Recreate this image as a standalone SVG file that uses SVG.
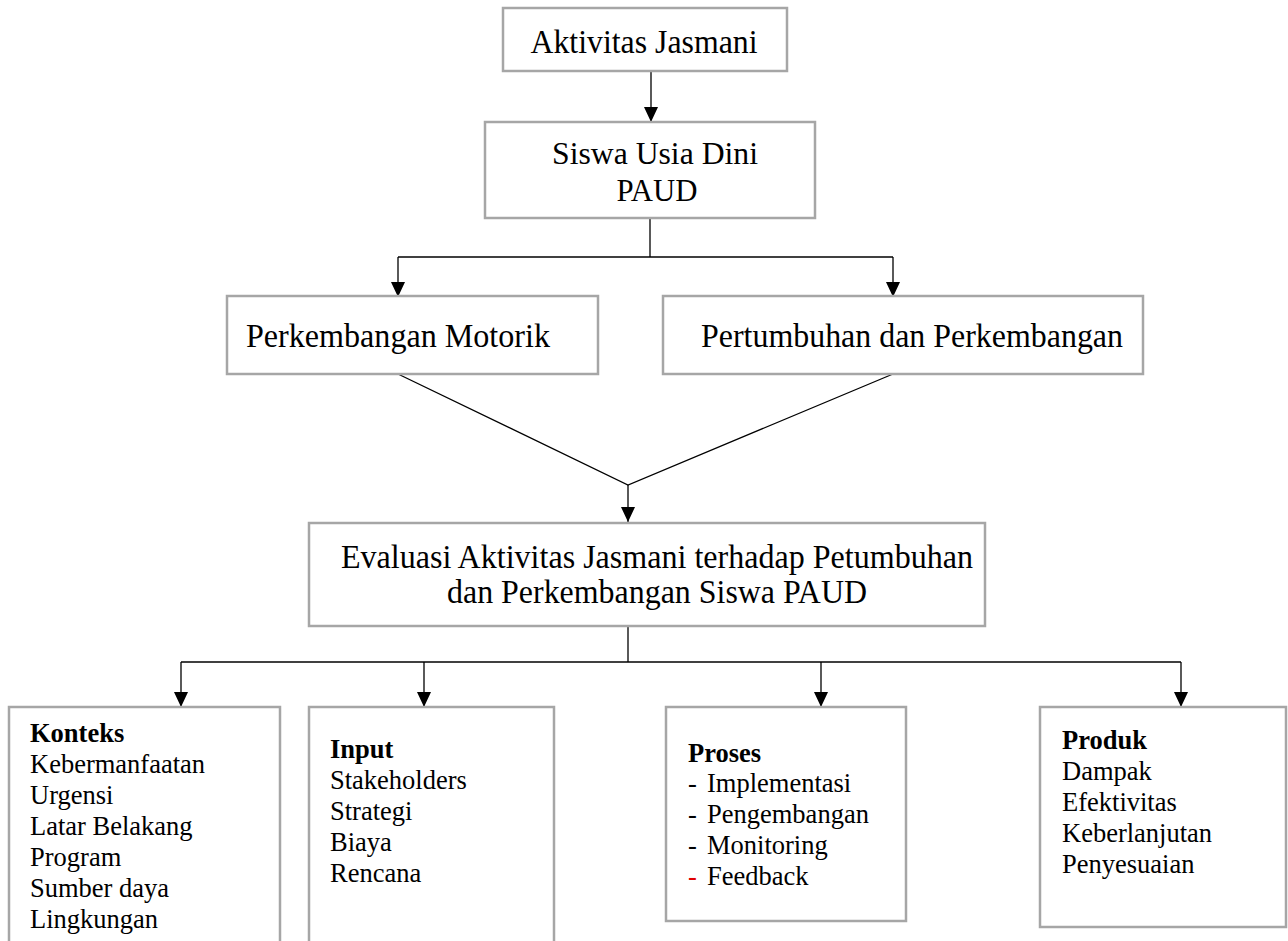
<svg xmlns="http://www.w3.org/2000/svg" width="1288" height="941" viewBox="0 0 1288 941">
<defs>
<marker id="arr" viewBox="0 0 15 14" refX="15" refY="7" markerWidth="15" markerHeight="14" markerUnits="userSpaceOnUse" orient="auto">
<path d="M0,0 L15,7 L0,14 z" fill="#000"/>
</marker>
</defs>
<style>
.box{fill:#fff;stroke:#a6a6a6;stroke-width:2.5}
.big{font-family:"Liberation Serif","Times New Roman",serif;font-size:34px;fill:#000;text-anchor:middle}
.mid{font-size:31px}
.sm{font-family:"Liberation Serif","Times New Roman",serif;font-size:26.5px;fill:#000}
.hd{font-weight:bold}
.ln{fill:none;stroke:#000;stroke-width:1.3}
</style>
<rect width="1288" height="941" fill="#fff"/>
<g id="connectors">
<line class="ln" x1="651" y1="71" x2="651" y2="122" marker-end="url(#arr)"/>
<polyline class="ln" points="650,218 650,257"/>
<line class="ln" x1="398" y1="257" x2="893" y2="257"/>
<line class="ln" x1="398" y1="257" x2="398" y2="297" marker-end="url(#arr)"/>
<line class="ln" x1="893" y1="257" x2="893" y2="297" marker-end="url(#arr)"/>
<polyline class="ln" points="398,374 628,485 893,374"/>
<line class="ln" x1="628" y1="485" x2="628" y2="522" marker-end="url(#arr)"/>
<line class="ln" x1="628" y1="626" x2="628" y2="662"/>
<line class="ln" x1="181" y1="662" x2="1181" y2="662"/>
<line class="ln" x1="181" y1="662" x2="181" y2="707" marker-end="url(#arr)"/>
<line class="ln" x1="424" y1="662" x2="424" y2="707" marker-end="url(#arr)"/>
<line class="ln" x1="821" y1="662" x2="821" y2="707" marker-end="url(#arr)"/>
<line class="ln" x1="1181" y1="662" x2="1181" y2="707" marker-end="url(#arr)"/>
</g>
<g id="aktivitas">
<rect class="box" x="503" y="8" width="284" height="63"/>
<text class="big" x="644" y="53" textLength="227" lengthAdjust="spacingAndGlyphs">Aktivitas Jasmani</text>
</g>
<g id="siswa">
<rect class="box" x="485" y="122" width="330" height="96"/>
<text class="big mid" x="655" y="164" textLength="206" lengthAdjust="spacingAndGlyphs">Siswa Usia Dini</text>
<text class="big mid" x="657" y="201" textLength="81" lengthAdjust="spacingAndGlyphs">PAUD</text>
</g>
<g id="motorik">
<rect class="box" x="227" y="296" width="371" height="78"/>
<text class="big" x="398" y="347" textLength="304" lengthAdjust="spacingAndGlyphs">Perkembangan Motorik</text>
</g>
<g id="pertumbuhan">
<rect class="box" x="663" y="296" width="480" height="78"/>
<text class="big" x="912" y="347" textLength="422" lengthAdjust="spacingAndGlyphs">Pertumbuhan dan Perkembangan</text>
</g>
<g id="evaluasi">
<rect class="box" x="309" y="523" width="676" height="103"/>
<text class="big" x="657" y="568" textLength="632" lengthAdjust="spacingAndGlyphs">Evaluasi Aktivitas Jasmani terhadap Petumbuhan</text>
<text class="big" x="657" y="603" textLength="420" lengthAdjust="spacingAndGlyphs">dan Perkembangan Siswa PAUD</text>
</g>
<g id="konteks">
<rect class="box" x="9" y="707" width="271" height="250"/>
<text class="sm" x="30" y="742"><tspan class="hd">Konteks</tspan><tspan x="30" dy="31">Kebermanfaatan</tspan><tspan x="30" dy="31">Urgensi</tspan><tspan x="30" dy="31">Latar Belakang</tspan><tspan x="30" dy="31">Program</tspan><tspan x="30" dy="31">Sumber daya</tspan><tspan x="30" dy="31">Lingkungan</tspan></text>
</g>
<g id="input">
<rect class="box" x="309" y="707" width="245" height="250"/>
<text class="sm" x="330" y="758"><tspan class="hd">Input</tspan><tspan x="330" dy="31">Stakeholders</tspan><tspan x="330" dy="31">Strategi</tspan><tspan x="330" dy="31">Biaya</tspan><tspan x="330" dy="31">Rencana</tspan></text>
</g>
<g id="proses">
<rect class="box" x="666" y="707" width="240" height="214"/>
<text class="sm hd" x="688" y="762">Proses</text>
<text class="sm" x="688" y="792">-</text>
<text class="sm" x="707" y="792">Implementasi</text>
<text class="sm" x="688" y="823">-</text>
<text class="sm" x="707" y="823">Pengembangan</text>
<text class="sm" x="688" y="854">-</text>
<text class="sm" x="707" y="854">Monitoring</text>
<text class="sm" x="688" y="885" style="fill:#e00000">-</text>
<text class="sm" x="707" y="885">Feedback</text>
</g>
<g id="produk">
<rect class="box" x="1040" y="707" width="246" height="220"/>
<text class="sm" x="1062" y="749"><tspan class="hd">Produk</tspan><tspan x="1062" dy="31">Dampak</tspan><tspan x="1062" dy="31">Efektivitas</tspan><tspan x="1062" dy="31">Keberlanjutan</tspan><tspan x="1062" dy="31">Penyesuaian</tspan></text>
</g>
</svg>
